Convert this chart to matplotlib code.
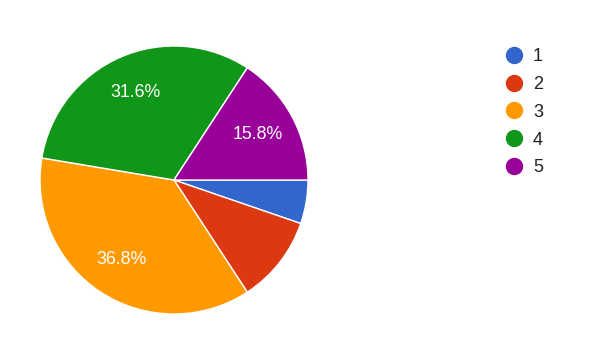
import matplotlib as mpl
mpl.use('Agg')
import matplotlib.pyplot as plt
from matplotlib.lines import Line2D

plt.rcParams['font.family'] = ['Liberation Sans', 'DejaVu Sans']

labels = ['1', '2', '3', '4', '5']
counts = [1, 2, 7, 6, 3]
colors = ['#3366cc', '#dc3912', '#ff9900', '#109618', '#990099']

W, H = 600, 343
fig = plt.figure(figsize=(W / 100, H / 100), dpi=100)
cx, cy, r = 174, 180, 134
ax = fig.add_axes([(cx - r) / W, (H - cy - r) / H, 2 * r / W, 2 * r / H])

def pct(p):
    return '%.1f%%' % p if p > 12 else ''

wedges, texts, autotexts = ax.pie(counts, colors=colors, startangle=0, counterclock=False,
                                  autopct=pct, pctdistance=0.71,
                                  wedgeprops=dict(edgecolor='white', linewidth=1))
for t in autotexts:
    t.set_color('white')
    t.set_fontsize(12.8)
ax.set_xlim(-1, 1)
ax.set_ylim(-1, 1)

handles = [Line2D([], [], marker='o', ls='', color=c, markersize=11.5) for c in colors]
fig.legend(handles, labels, loc='upper left', bbox_to_anchor=(495 / W, 1 - 39 / H),
           frameon=False, fontsize=13, handlelength=1.1, handletextpad=0.5,
           labelspacing=0.6, borderpad=0, labelcolor='#222222')

plt.savefig('out.png', dpi=100)
